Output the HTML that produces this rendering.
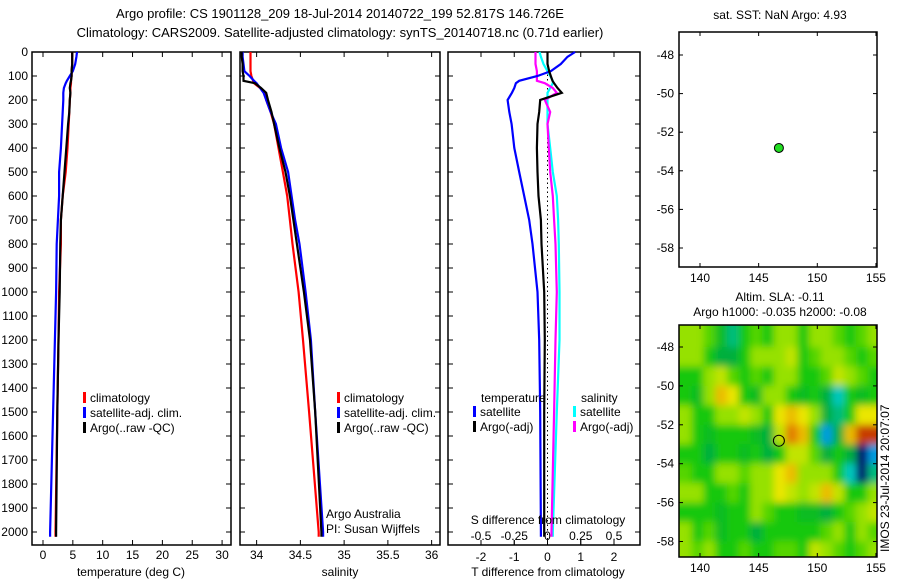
<!DOCTYPE html>
<html><head><meta charset="utf-8"><style>
body{margin:0;background:#fff;}
svg{display:block;font-family:"Liberation Sans",sans-serif;font-size:12px;}
</style></head><body>
<svg id="c" width="900" height="580" xmlns="http://www.w3.org/2000/svg">
<text x="340" y="18" text-anchor="middle" font-size="13">Argo profile: CS 1901128_209 18-Jul-2014 20140722_199 52.817S 146.726E</text>
<text x="340" y="37" text-anchor="middle" font-size="13">Climatology: CARS2009. Satellite-adjusted climatology: synTS_20140718.nc (0.71d earlier)</text>
<text x="780" y="19" text-anchor="middle">sat. SST: NaN Argo: 4.93</text>
<text x="780" y="301" text-anchor="middle">Altim. SLA: -0.11</text>
<text x="780" y="316" text-anchor="middle">Argo h1000: -0.035 h2000: -0.08</text>
<text transform="translate(889,552) rotate(-90)">IMOS 23-Jul-2014 20:07:07</text>
<defs>
<clipPath id="mapclip"><rect x="679" y="325" width="198" height="232"/></clipPath>
<filter id="bl" filterUnits="userSpaceOnUse" x="640" y="290" width="270" height="300"><feGaussianBlur stdDeviation="3.8"/></filter>
</defs>
<g id="g"></g>
</svg>
<script>
const depths=[0,20,50,80,100,120,130,150,170,200,250,300,400,500,600,700,800,1000,1200,1500,2000,2020];
const tempClim=[4.9,4.9,4.9,4.8,4.8,4.7,4.7,4.6,4.6,4.5,4.4,4.3,4.1,3.8,3.3,3.0,3.0,2.7,2.6,2.4,2.1,2.1];
const tempSat=[5.7,5.6,5.4,5.0,4.5,4.0,3.8,3.5,3.4,3.4,3.3,3.2,3.0,2.7,2.7,2.5,2.3,2.2,2.0,1.7,1.2,1.2];
const tempArgo=[4.9,4.9,4.9,4.8,4.8,4.7,4.6,4.5,4.6,4.5,4.4,4.2,3.9,3.6,3.3,3.0,2.9,2.8,2.6,2.4,2.2,2.2];
const salClim=[33.93,33.93,33.93,33.93,33.94,33.96,33.97,34.04,34.10,34.11,34.16,34.20,34.25,34.30,34.35,34.38,34.41,34.48,34.53,34.60,34.71,34.71];
const salSat=[33.84,33.84,33.85,33.86,33.92,33.97,34.0,34.04,34.08,34.11,34.16,34.22,34.28,34.36,34.40,34.44,34.49,34.56,34.62,34.67,34.76,34.76];
const salArgo=[33.83,33.83,33.84,33.84,33.85,33.85,33.98,34.05,34.11,34.13,34.17,34.20,34.26,34.33,34.38,34.42,34.46,34.54,34.61,34.67,34.74,34.74];
const dTsat=[0.83,0.6,0.4,0.1,-0.3,-0.85,-0.95,-1.0,-1.07,-1.2,-1.15,-1.08,-1.0,-0.85,-0.7,-0.55,-0.45,-0.3,-0.25,-0.22,-0.2,-0.2];
const dTargo=[0.0,0.0,0.0,0.05,0.1,0.15,0.2,0.3,0.43,-0.22,-0.25,-0.3,-0.32,-0.3,-0.27,-0.2,-0.18,-0.1,-0.08,-0.1,-0.1,-0.1];
const dSsat=[-0.06,-0.05,-0.03,0.0,0.02,0.04,0.04,0.02,0.0,0.0,0.0,0.0,0.02,0.04,0.07,0.08,0.085,0.09,0.09,0.07,0.04,0.04];
const dSargo=[-0.09,-0.09,-0.09,-0.08,-0.08,-0.08,-0.02,0.04,0.07,-0.02,0.02,0.0,0.01,0.02,0.04,0.05,0.06,0.07,0.06,0.05,0.03,0.03];
const depthTicks=[0,100,200,300,400,500,600,700,800,900,1000,1100,1200,1300,1400,1500,1600,1700,1800,1900,2000];
const tempTicks=[0,5,10,15,20,25,30];
const salTicks=[34,34.5,35,35.5,36];
const salTickLabels=["34","34.5","35","35.5","36"];
const dTTicks=[-2,-1,0,1,2];
const dSTicks=[-0.5,-0.25,0,0.25,0.5];
const dSTickLabels=["-0.5","-0.25","0","0.25","0.5"];
const lonTicks=[140,145,150,155];
const latTicksTop=[-48,-50,-52,-54,-56,-58];
const latTicksBot=[-48,-50,-52,-54,-56,-58];
const argoLon=146.726, argoLat=-52.817;
const slaGrid=[
[1,1,0.5,-0.5,-1.5,0,0.5,0,1,1,0,1,1,0.5,0,0.5,1],
[1,1,0,-1,-1,0,1,1,1,1.5,0,0.5,1,1,0.5,0,0.5],
[0,0,1,1.5,0.5,0,0.5,0,1,1,0,0,0.5,1.5,1,0.5,0],
[0,-0.5,1,2.5,2,0,-0.5,1,1,0,-0.5,0,-1,-2,0,-0.5,0],
[1,0,0,1,1,1.5,1,0,2,2.5,2,1,-1,-1.5,0,2,2],
[1,0,-0.5,0,0,0,-0.5,-1,1.5,3.2,2.5,0,-2.5,-1,2.5,3.8,3.8],
[0,0,-1,0,0,-0.5,0,-1,0,1.5,1.5,0.5,-1,0,-1,-4,-2.5],
[0.5,0,0,1,1,0.5,1,1,2,2.5,1,1,1,0,-2,-4,-1.5],
[1,1,0,0,0.5,0,1,1,2,1.5,1,1.5,2.5,1.5,0,0,1],
[0,0,0,-0.5,0,0,1,0.5,0,0,-0.5,-0.5,-1,0,0.5,1,1.5],
[1,0,0.5,-0.5,0,0,-1,0,0,0,0,0,0.5,1,0,1,0.5],
[1,0.5,1,0,0,0.5,0,0,0.5,0.5,0,1.5,1,0.5,0,0.5,1]];
const gridLat0=-47.5, gridLon0=138.8;

const NS="http://www.w3.org/2000/svg";
const G=document.getElementById('g');
function mk(t,a,p){const e=document.createElementNS(NS,t);for(const k in a)e.setAttribute(k,a[k]);(p||G).appendChild(e);return e;}
function txt(x,y,s,anc,p){const e=mk('text',{x:x,y:y,'text-anchor':anc||'middle'},p);e.textContent=s;return e;}
const yD=d=>52+d*0.24;
const xT=t=>32+(t+1.84)*5.97;
const xS=s=>240+(s-33.81)*87.5;
const xDT=v=>547.5+v*33.25;
const xDS=v=>547.5+v*133;
function frame(x0,x1,y0,y1,name){const r=mk('rect',{x:x0,y:y0,width:x1-x0,height:y1-y0,fill:'none',stroke:'#000','stroke-width':1.5});}
function line(xs,xf,col,name,w){const pts=depths.map((d,i)=>xf(xs[i]).toFixed(1)+','+yD(d).toFixed(1)).join(' ');const p=mk('polyline',{points:pts,fill:'none',stroke:col,'stroke-width':w||2.2});}
function xticks(ticks,labels,xf,y0,y1,ly){ticks.forEach((t,i)=>{const x=xf(t);mk('line',{x1:x,x2:x,y1:y1,y2:y1-5,stroke:'#000'});mk('line',{x1:x,x2:x,y1:y0,y2:y0+5,stroke:'#000'});if(ly){const e=txt(x,ly,labels[i]);}});}
function yticks(x0,x1,lab){depthTicks.forEach(d=>{const y=yD(d);mk('line',{x1:x0,x2:x0+5,y1:y,y2:y,stroke:'#000'});mk('line',{x1:x1,x2:x1-5,y1:y,y2:y,stroke:'#000'});if(lab){const e=txt(28,y+4,String(d),'end');}});}
function leg(x,y,col,s){mk('rect',{x:x,y:y-10,width:3,height:11,fill:col});const e=txt(x+7,y,s,'start');}

frame(32,231,52,545,'temperature-panel');yticks(32,231,true);
xticks(tempTicks,tempTicks.map(String),xT,52,545,559);
line(tempClim,xT,'#f00','temp-climatology-line');line(tempSat,xT,'#00f','temp-satellite-line');line(tempArgo,xT,'#000','temp-argo-line');
let e=txt(131,576,'temperature (deg C)');
leg(83,402,'#f00','climatology');leg(83,417,'#00f','satellite-adj. clim.');leg(83,432,'#000','Argo(..raw -QC)');

frame(240,440,52,545,'salinity-panel');yticks(240,440,false);
xticks(salTicks,salTickLabels,xS,52,545,559);
line(salClim,xS,'#f00','sal-climatology-line');line(salSat,xS,'#00f','sal-satellite-line');line(salArgo,xS,'#000','sal-argo-line');
e=txt(340,576,'salinity');
leg(337,402,'#f00','climatology');leg(337,417,'#00f','satellite-adj. clim.');leg(337,432,'#000','Argo(..raw -QC)');
e=txt(326,518,'Argo Australia','start');
e=txt(326,533,'PI: Susan Wijffels','start');

frame(448,640,52,545,'difference-panel');yticks(448,640,false);
xticks(dTTicks,dTTicks.map(String),xDT,52,545,561);
dSTicks.forEach((t,i)=>{const x=xDS(t);mk('line',{x1:x,x2:x,y1:545,y2:540,stroke:'#000'});const l=txt(x,540,dSTickLabels[i]);});
mk('line',{x1:xDT(0),x2:xDT(0),y1:52,y2:545,stroke:'#000','stroke-dasharray':'1.5,3'});
line(dSsat,xDS,'#0ff','dsal-satellite-line');line(dSargo,xDS,'#f0f','dsal-argo-line');line(dTsat,xDT,'#00f','dtemp-satellite-line');line(dTargo,xDT,'#000','dtemp-argo-line');
e=txt(548,576,'T difference from climatology');
e=txt(548,524,'S difference from climatology');
e=txt(481,402,'temperature','start');
e=txt(581,402,'salinity','start');
leg(473,416,'#00f','satellite');leg(473,431,'#000','Argo(-adj)');leg(573,416,'#0ff','satellite');leg(573,431,'#f0f','Argo(-adj)');

const xL=l=>700+(l-140)*11.73;
const yTop=l=>55+(-48-l)*19.3;
const yBot=l=>347+(-48-l)*19.45;
function mapAxes(y0,y1,yf,lat){lonTicks.forEach(l=>{const x=xL(l);mk('line',{x1:x,x2:x,y1:y1,y2:y1-4,stroke:'#000'});mk('line',{x1:x,x2:x,y1:y0,y2:y0+4,stroke:'#000'});const t=txt(x,y1+15,String(l));});
lat.forEach(l=>{const y=yf(l);mk('line',{x1:679,x2:683,y1:y,y2:y,stroke:'#000'});mk('line',{x1:877,x2:873,y1:y,y2:y,stroke:'#000'});const t=txt(674,y+4,String(l),'end');});}
frame(679,877,32,267,'sst-map');mapAxes(32,267,yTop,latTicksTop);
const dot=mk('circle',{cx:xL(argoLon),cy:yTop(argoLat),r:4.5,fill:'#2d2',stroke:'#000','stroke-width':1});


function col(v){const st=[[-4,[0,0,110]],[-3,[0,110,255]],[-2,[0,200,190]],[-1,[0,175,60]],[0,[20,200,10]],[1,[150,225,0]],[2,[235,230,0]],[3,[235,145,0]],[4,[190,40,0]]];
v=Math.max(-4,Math.min(4,v));for(let i=0;i<st.length-1;i++){if(v<=st[i+1][0]){const f=(v-st[i][0]);const a=st[i][1],b=st[i+1][1];return 'rgb('+a.map((c,j)=>Math.round(c+(b[j]-c)*f)).join(',')+')';}}return 'rgb(190,40,0)';}
const mg=mk('g',{'clip-path':'url(#mapclip)'});
mk('rect',{x:679,y:325,width:198,height:232,fill:col(0)},mg);
const bg=mk('g',{filter:'url(#bl)'},mg);
const nR=slaGrid.length,nC=slaGrid[0].length;
slaGrid.forEach((row,r)=>row.forEach((v,c)=>{
 const lon=gridLon0+c, lat=gridLat0-r;
 let x0=xL(lon-0.5),x1=xL(lon+0.5),y0=yBot(lat+0.5),y1=yBot(lat-0.5);
 if(c===0)x0-=15; if(c===nC-1)x1+=15; if(r===0)y0-=15; if(r===nR-1)y1+=15;
 const cell=mk('rect',{x:x0,y:y0,width:x1-x0+0.5,height:y1-y0+0.5,fill:col(v)},bg);
 
 
}));
frame(679,877,325,557,'sla-map');mapAxes(325,557,yBot,latTicksBot);
const ring=mk('circle',{cx:xL(argoLon),cy:yBot(argoLat),r:5.5,fill:'none',stroke:'#000','stroke-width':1});

</script>
</body></html>
